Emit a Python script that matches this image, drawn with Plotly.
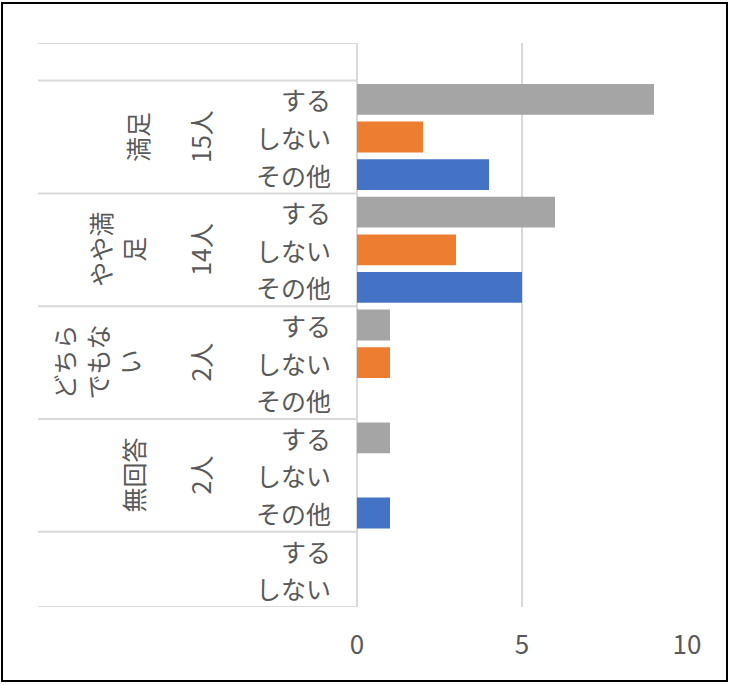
import plotly.graph_objects as go

# ---- data ----
group_labels = ["満足", "やや満<br>足", "どちら<br>でもな<br>い", "無回答"]
counts = ["15人", "14人", "2人", "2人"]
subcats = ["する", "しない", "その他"]
suru = [9, 6, 1, 1]
shinai = [2, 3, 1, 0]
sonota = [4, 5, 0, 1]
tail_subcats = ["する", "しない"]
x_ticks = [0, 5, 10]

# ---- layout constants (pixels) ----
W, H = 731, 685
L, R, T, B = 357, 687, 43, 607
FONT = "Noto Sans CJK JP"
TXT = "#595959"
GRID = "#D9D9D9"

def px_x(p):
    return (p - L) / (R - L)

def px_y(p):
    return (B - p) / (B - T)

n_rows = 1 + 3 * len(counts) + len(tail_subcats)

def row(g, s):
    return 1 + 3 * g + s

fig = go.Figure()
series = [("する", suru, "#A5A5A5", 0), ("しない", shinai, "#ED7D31", 1), ("その他", sonota, "#4472C4", 2)]
for name, vals, color, s in series:
    fig.add_trace(go.Bar(
        x=vals, y=[row(g, s) for g in range(len(vals))], orientation="h",
        marker=dict(color=color, line=dict(width=0)), width=0.82, name=name,
        showlegend=False, hoverinfo="x"))

shapes = []
bounds = [-0.5, 0.5] + [row(g, 2) + 0.5 for g in range(len(counts))] + [n_rows - 0.5]
for b in bounds:
    shapes.append(dict(type="line", xref="paper", yref="y", x0=px_x(38), x1=0, y0=b, y1=b,
                       line=dict(color=GRID, width=2)))
shapes.append(dict(type="rect", xref="paper", yref="paper", x0=px_x(2), x1=px_x(727),
                   y0=px_y(681), y1=px_y(3), line=dict(color="#000000", width=2)))

ann = []
font = dict(family=FONT, size=25, color=TXT)
for g in range(len(counts)):
    for s, lab in enumerate(subcats):
        ann.append(dict(x=0, y=row(g, s), xref="paper", yref="y", text=lab, showarrow=False,
                        xanchor="right", xshift=-24, font=font))
    ann.append(dict(x=0, y=row(g, 1), xref="paper", yref="y", text=counts[g], showarrow=False,
                    xanchor="center", xshift=200 - L, textangle=-90, font=font))
gx = [137, 117, 97, 133]
for g, lab in enumerate(group_labels):
    ann.append(dict(x=0, y=row(g, 1), xref="paper", yref="y", text=lab, showarrow=False,
                    xanchor="center", xshift=gx[g] - L, textangle=-90, font=font))
for s, lab in enumerate(tail_subcats):
    ann.append(dict(x=0, y=row(len(counts), s), xref="paper", yref="y", text=lab, showarrow=False,
                    xanchor="right", xshift=-24, font=font))

fig.update_layout(
    width=W, height=H, margin=dict(l=L, r=W - R, t=T, b=H - B),
    paper_bgcolor="white", plot_bgcolor="white",
    barmode="overlay",
    xaxis=dict(range=[0, 10], tickvals=x_ticks, showgrid=True, gridcolor=GRID, gridwidth=2,
               zeroline=True, zerolinecolor=GRID, zerolinewidth=2, showline=False,
               tickfont=dict(family=FONT, size=26, color=TXT), ticklabelstandoff=20),
    yaxis=dict(range=[n_rows - 0.5, -0.5], showticklabels=False, showgrid=False,
               zeroline=False, showline=False),
    shapes=shapes, annotations=ann,
)
fig.write_html("out.html")
